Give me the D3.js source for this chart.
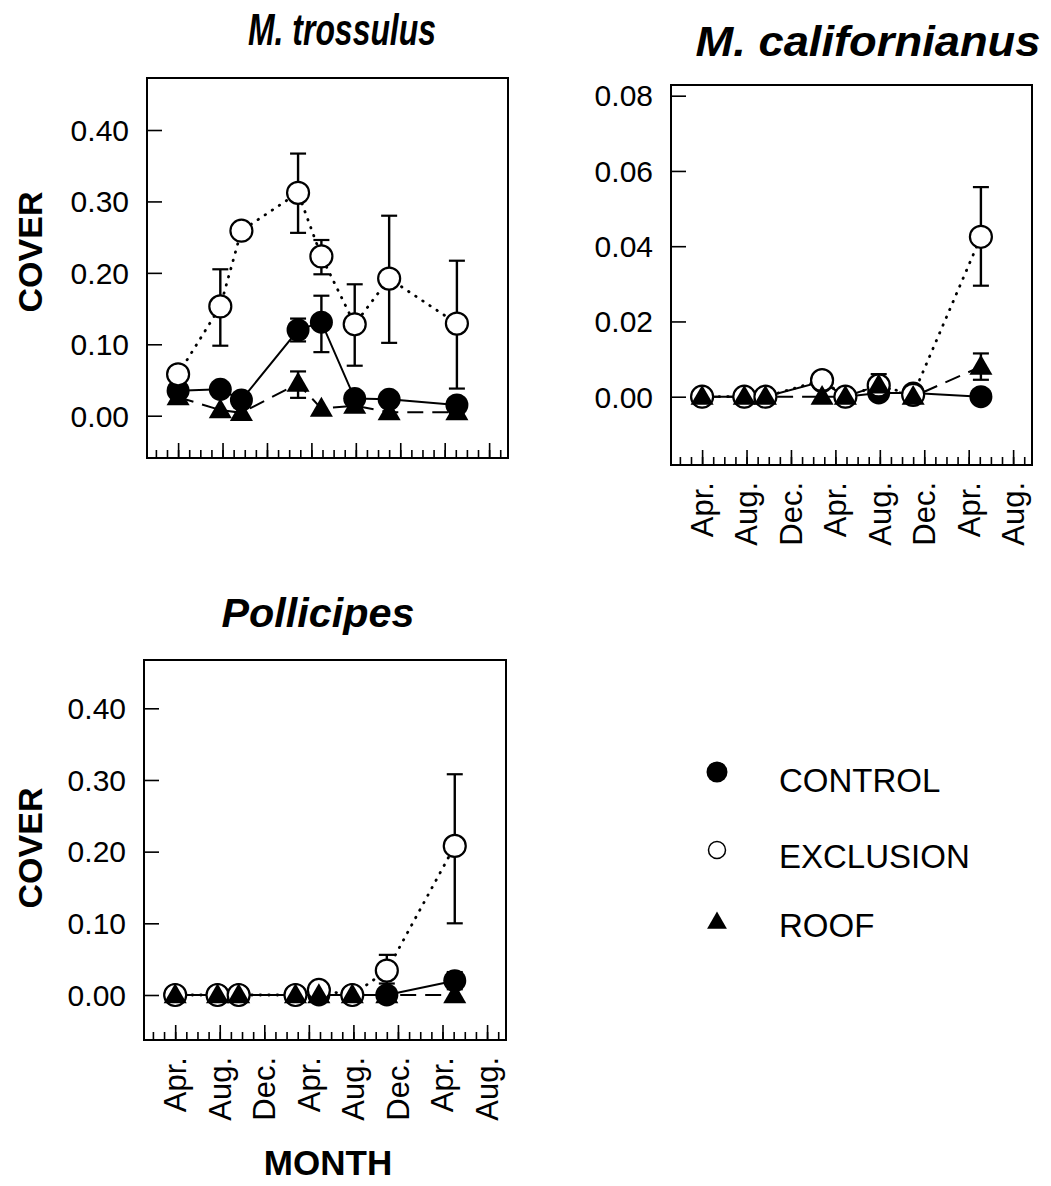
<!DOCTYPE html>
<html><head><meta charset="utf-8">
<script src="https://cdn.jsdelivr.net/npm/d3@7"></script>
<style>
body{margin:0;background:#fff;}
svg{display:block;font-family:"Liberation Sans",Arial,Helvetica,sans-serif;}
</style>
</head><body>
<svg id="chart" width="1051" height="1186"></svg>
<script>
// ---------------- DATA ----------------
const months = [3.0, 6.8, 8.7, 13.8, 15.9, 18.9, 22.0, 28.1];   // sampling dates (months from Jan, year 1)
const tickMonths = [3, 7, 11, 15, 19, 23, 27, 31];
const tickLabels = ["Apr.", "Aug.", "Dec.", "Apr.", "Aug.", "Dec.", "Apr.", "Aug."];
const minorMonths = [1,2,3,4,5,6,7,8,9,10,11,12,13,14,15,16,17,18,19,20,21,22,23,24,25,26,27,28,29,30,31,32];
const seriesNames = ["CONTROL", "EXCLUSION", "ROOF"];

// M. trossulus
const trossYTicks = [0, 0.1, 0.2, 0.3, 0.4];
const trossControl   = [0.035, 0.037, 0.022, 0.120, 0.131, 0.024, 0.023, 0.015];
const trossControlLo = [null, null, null, 0.104, 0.089, null, null, null];
const trossControlHi = [null, null, null, 0.136, 0.168, null, null, null];
const trossExcl      = [0.058, 0.153, 0.259, 0.312, 0.223, 0.128, 0.192, 0.129];
const trossExclLo    = [null, 0.098, null, 0.256, 0.198, 0.070, 0.102, 0.038];
const trossExclHi    = [null, 0.205, null, 0.367, 0.246, 0.184, 0.280, 0.217];
const trossRoof      = [0.026, 0.008, 0.004, 0.045, 0.010, 0.014, 0.005, 0.005];
const trossRoofLo    = [null, null, null, 0.025, null, null, null, null];
const trossRoofHi    = [null, null, null, 0.062, null, null, null, null];

// M. californianus
const calYTicks = [0, 0.02, 0.04, 0.06, 0.08];
const calControl   = [0, 0, 0, 0.004, 0, 0.001, 0.001, 0];
const calControlLo = [null, null, null, null, null, null, null, null];
const calControlHi = [null, null, null, null, null, null, null, null];
const calExcl      = [0, 0, 0, 0.0044, 0, 0.003, 0.0005, 0.0425];
const calExclLo    = [null, null, null, null, null, null, null, 0.0295];
const calExclHi    = [null, null, null, null, null, null, null, 0.0557];
const calRoof      = [0, 0, 0, 0, 0, 0.003, 0, 0.008];
const calRoofLo    = [null, null, null, null, null, 0.0005, null, 0.0045];
const calRoofHi    = [null, null, null, null, null, 0.006, null, 0.0115];

// Pollicipes
const polYTicks = [0, 0.1, 0.2, 0.3, 0.4];
const polControl   = [0, 0, 0, 0, 0, 0, 0, 0.020];
const polControlLo = [null, null, null, null, null, null, null, 0.008];
const polControlHi = [null, null, null, null, null, null, null, 0.032];
const polExcl      = [0, 0, 0, 0, 0.007, 0, 0.034, 0.208];
const polExclLo    = [null, null, null, null, null, null, 0.016, 0.100];
const polExclHi    = [null, null, null, null, null, null, 0.056, 0.308];
const polRoof      = [0, 0, 0, 0, 0, 0, 0, 0];
const polRoofLo    = [null, null, null, null, null, null, null, null];
const polRoofHi    = [null, null, null, null, null, null, null, null];

// ---------------- LAYOUT ----------------
const svg = d3.select("#chart");
const xDomain = [0.2, 32.7];

const panels = [
  { title: "M. trossulus", titleX: 342, titleY: 45, titleLen: 188, titleSize: 44,
    box: {x0: 147, x1: 508, y0: 78, y1: 458}, yDomain: [-0.0592, 0.4728], yTicks: trossYTicks, fmt: ".2f",
    xLabels: false,
    series: [
      {v: trossControl, lo: trossControlLo, hi: trossControlHi},
      {v: trossExcl, lo: trossExclLo, hi: trossExclHi},
      {v: trossRoof, lo: trossRoofLo, hi: trossRoofHi}] },
  { title: "M. californianus", titleX: 868, titleY: 56, titleLen: 345, titleSize: 42,
    box: {x0: 671, x1: 1032, y0: 85, y1: 465}, yDomain: [-0.01815, 0.08284], yTicks: calYTicks, fmt: ".2f",
    xLabels: true,
    series: [
      {v: calControl, lo: calControlLo, hi: calControlHi},
      {v: calExcl, lo: calExclLo, hi: calExclHi},
      {v: calRoof, lo: calRoofLo, hi: calRoofHi}] },
  { title: "Pollicipes", titleX: 318, titleY: 627, titleLen: 193, titleSize: 40,
    box: {x0: 144, x1: 506, y0: 660, y1: 1040}, yDomain: [-0.0628, 0.4674], yTicks: polYTicks, fmt: ".2f",
    xLabels: true,
    series: [
      {v: polControl, lo: polControlLo, hi: polControlHi},
      {v: polExcl, lo: polExclLo, hi: polExclHi},
      {v: polRoof, lo: polRoofLo, hi: polRoofHi}] }
];

const lineStyles = [
  {dash: null, width: 2, cap: "butt"},
  {dash: "0.5,8", width: 2.8, cap: "round"},
  {dash: "16,9", width: 2, cap: "butt"}
];

const triSym = d3.symbol().type(d3.symbolTriangle).size(230);

function marker(g, i, x, y, r) {
  if (i === 0) {
    g.append("circle").attr("cx", x).attr("cy", y).attr("r", r).attr("fill", "#000");
  } else if (i === 1) {
    g.append("circle").attr("cx", x).attr("cy", y).attr("r", r - 0.5).attr("fill", "#fff")
      .attr("stroke", "#000").attr("stroke-width", 2.2);
  } else {
    g.append("path").attr("d", triSym()).attr("transform", `translate(${x},${y + 1.5})`).attr("fill", "#000");
  }
}

panels.forEach(p => {
  const b = p.box;
  const x = d3.scaleLinear().domain(xDomain).range([b.x0, b.x1]);
  const y = d3.scaleLinear().domain(p.yDomain).range([b.y1, b.y0]);
  const g = svg.append("g");

  // title
  g.append("text").attr("x", p.titleX).attr("y", p.titleY)
    .attr("text-anchor", "middle").attr("font-weight", "bold").attr("font-style", "italic")
    .attr("font-size", p.titleSize)
    .attr("textLength", p.titleLen).attr("lengthAdjust", "spacingAndGlyphs")
    .text(p.title);

  // frame
  g.append("rect").attr("x", b.x0).attr("y", b.y0).attr("width", b.x1 - b.x0).attr("height", b.y1 - b.y0)
    .attr("fill", "none").attr("stroke", "#000").attr("stroke-width", 2);

  // y axis (ticks inward)
  const yAxis = d3.axisRight(y).tickValues(p.yTicks).tickSize(15).tickFormat("");
  const ya = g.append("g").attr("transform", `translate(${b.x0},0)`).call(yAxis);
  ya.select(".domain").remove();
  ya.selectAll(".tick line").attr("stroke-width", 1.6);
  p.yTicks.forEach(t => {
    g.append("text").attr("x", b.x0 - 18).attr("y", y(t)).attr("dy", "0.36em")
      .attr("text-anchor", "end").attr("font-size", 30).text(d3.format(p.fmt)(t));
  });

  // x axis: monthly minor ticks, major every 4 months (inward)
  const xMinor = d3.axisTop(x).tickValues(minorMonths).tickSize(8).tickFormat("");
  const xm = g.append("g").attr("transform", `translate(0,${b.y1})`).call(xMinor);
  xm.select(".domain").remove();
  xm.selectAll(".tick line").attr("stroke-width", 1.6);
  const xMajor = d3.axisTop(x).tickValues(tickMonths).tickSize(15).tickFormat("");
  const xM = g.append("g").attr("transform", `translate(0,${b.y1})`).call(xMajor);
  xM.select(".domain").remove();
  xM.selectAll(".tick line").attr("stroke-width", 1.6);

  if (p.xLabels) {
    tickMonths.forEach((m, i) => {
      g.append("text").attr("transform", `translate(${x(m)},${b.y1 + 17}) rotate(-90)`)
        .attr("dy", "0.35em").attr("text-anchor", "end").attr("font-size", 31).text(tickLabels[i]);
    });
  }

  // lines
  p.series.forEach((s, i) => {
    const line = d3.line().x((d, j) => x(months[j])).y(d => y(d));
    const ls = lineStyles[i];
    g.append("path").attr("d", line(s.v)).attr("fill", "none").attr("stroke", "#000")
      .attr("stroke-width", ls.width).attr("stroke-linecap", ls.cap)
      .attr("stroke-dasharray", ls.dash);
  });

  // error bars + markers
  p.series.forEach((s, i) => {
    s.v.forEach((v, j) => {
      if (s.lo[j] == null || s.hi[j] == null) return;
      const cx = x(months[j]);
      g.append("line").attr("x1", cx).attr("x2", cx).attr("y1", y(s.lo[j])).attr("y2", y(s.hi[j]))
        .attr("stroke", "#000").attr("stroke-width", 2.4);
      [s.lo[j], s.hi[j]].forEach(e => {
        g.append("line").attr("x1", cx - 8).attr("x2", cx + 8).attr("y1", y(e)).attr("y2", y(e))
          .attr("stroke", "#000").attr("stroke-width", 2.2);
      });
    });
  });
  p.series.forEach((s, i) => {
    s.v.forEach((v, j) => marker(g, i, x(months[j]), y(v), 11.5));
  });
});

// axis titles
svg.append("text").attr("transform", "translate(42,252) rotate(-90)").attr("text-anchor", "middle")
  .attr("font-weight", "bold").attr("font-size", 34).text("COVER");
svg.append("text").attr("transform", "translate(42,848) rotate(-90)").attr("text-anchor", "middle")
  .attr("font-weight", "bold").attr("font-size", 34).text("COVER");
svg.append("text").attr("x", 328).attr("y", 1175).attr("text-anchor", "middle")
  .attr("font-weight", "bold").attr("font-size", 35).text("MONTH");

// legend
const legY = [772, 850, 922];
const lg = svg.append("g");
seriesNames.forEach((n, i) => {
  if (i === 0) lg.append("circle").attr("cx", 717).attr("cy", legY[i]).attr("r", 10.5).attr("fill", "#000");
  else if (i === 1) lg.append("circle").attr("cx", 717).attr("cy", legY[i]).attr("r", 8.5).attr("fill", "#fff")
    .attr("stroke", "#000").attr("stroke-width", 1.5);
  else lg.append("path").attr("d", d3.symbol().type(d3.symbolTriangle).size(170)())
    .attr("transform", `translate(717,${legY[i] + 1})`).attr("fill", "#000");
  lg.append("text").attr("x", 779).attr("y", [792, 868, 937][i]).attr("font-size", 33).text(n);
});
</script>
</body></html>
